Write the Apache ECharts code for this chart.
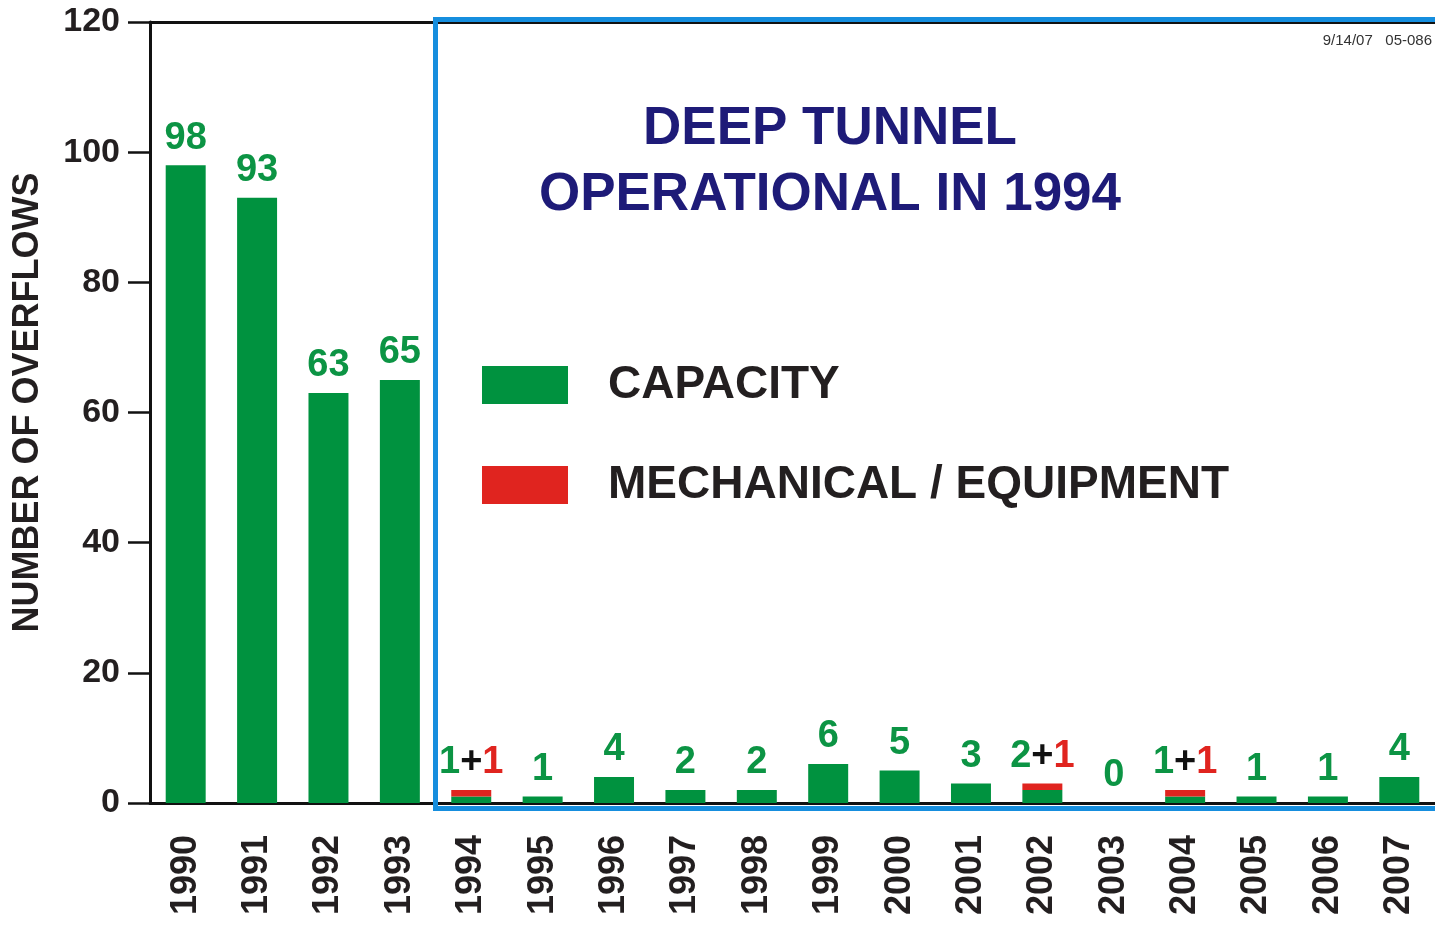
<!DOCTYPE html>
<html>
<head>
<meta charset="utf-8">
<script src="https://cdn.jsdelivr.net/npm/echarts@6/dist/echarts.min.js"></script>
<style>
  html, body { margin: 0; padding: 0; background: #fff; }
  #chart { width: 1435px; height: 925px; }
</style>
</head>
<body>
<div id="chart"></div>
<script>
// data
const years = ['1990','1991','1992','1993','1994','1995','1996','1997','1998',
               '1999','2000','2001','2002','2003','2004','2005','2006','2007'];
const capacity   = [98, 93, 63, 65, 1, 1, 4, 2, 2, 6, 5, 3, 2, 0, 1, 1, 1, 4];
const mechanical = [0, 0, 0, 0, 1, 0, 0, 0, 0, 0, 0, 0, 1, 0, 1, 0, 0, 0];
const yTicks = [0, 20, 40, 60, 80, 100, 120];

const GREEN = '#00923f';
const RED = '#e0241f';
const FONT = 'Liberation Sans';

var chart = echarts.init(document.getElementById('chart'));

const option = {
  backgroundColor: '#fff',
  animation: false,
  textStyle: { fontFamily: FONT },
  grid: { left: 150, right: 0, top: 22, bottom: 122 },
  legend: {
    orient: 'vertical',
    left: 477, top: 357,
    itemWidth: 86, itemHeight: 38, itemGap: 54,
    icon: 'rect',
    selectedMode: false,
    textStyle: { fontSize: 46, fontWeight: 'bold', color: '#231f20', fontFamily: FONT,
                 lineHeight: 38, padding: [0, 0, 0, 35] },
    data: ['CAPACITY', 'MECHANICAL / EQUIPMENT']
  },
  xAxis: [{
    type: 'category',
    data: years,
    axisLine: { lineStyle: { color: '#111', width: 3 } },
    axisTick: { length: 20, lineStyle: { color: '#111', width: 2.5 } },
    axisLabel: { rotate: 90, margin: 32, fontSize: 36, fontWeight: 'bold', color: '#231f20', fontFamily: FONT }
  }, {
    type: 'category',
    position: 'top',
    data: years,
    axisLine: { lineStyle: { color: '#111', width: 3 } },
    axisTick: { show: false },
    axisLabel: { show: false }
  }],
  yAxis: {
    type: 'value',
    min: 0, max: yTicks[yTicks.length - 1], interval: 20,
    name: 'NUMBER OF OVERFLOWS',
    nameLocation: 'middle',
    nameGap: 104,
    nameTextStyle: { fontSize: 36, fontWeight: 'bold', color: '#231f20', fontFamily: FONT,
                     padding: [0, 0, 0, 20] },
    axisLine: { show: true, lineStyle: { color: '#111', width: 3 } },
    axisTick: { show: true, length: 22, lineStyle: { color: '#111', width: 2.5 } },
    axisLabel: { margin: 30, fontSize: 34, fontWeight: 'bold', color: '#231f20', fontFamily: FONT },
    splitLine: { show: false }
  },
  graphic: [
    {
      type: 'rect', z: 1,
      shape: { x: 435.5, y: 19.5, width: 1010, height: 789 },
      style: { fill: 'none', stroke: '#168ede', lineWidth: 5 }
    },
    {
      type: 'text', x: 830, y: 96,
      style: {
        text: 'DEEP TUNNEL\nOPERATIONAL IN 1994',
        fontSize: 53, fontWeight: 'bold', fontFamily: FONT,
        lineHeight: 66, align: 'center', fill: '#1e1b78'
      }
    },
    {
      type: 'text', x: 1432, y: 33,
      style: { text: '9/14/07   05-086', fontSize: 15, fontFamily: FONT, fill: '#333', align: 'right' }
    }
  ],
  series: [
    {
      name: 'CAPACITY',
      type: 'bar',
      stack: 'total',
      barWidth: '56%',
      itemStyle: { color: GREEN },
      label: {
        show: true, position: 'top', distance: 8,
        fontSize: 38, fontWeight: 'bold', color: '#0c9444', fontFamily: FONT,
        formatter: p => mechanical[p.dataIndex] > 0 ? '' : String(p.value)
      },
      data: capacity
    },
    {
      name: 'MECHANICAL / EQUIPMENT',
      type: 'bar',
      stack: 'total',
      barWidth: '56%',
      itemStyle: { color: RED },
      label: {
        show: true, position: 'top', distance: 8,
        fontSize: 38, fontWeight: 'bold', fontFamily: FONT,
        formatter: p => {
          const i = p.dataIndex;
          return mechanical[i] > 0 ? '{g|' + capacity[i] + '}{k|+}{r|' + mechanical[i] + '}' : '';
        },
        rich: {
          g: { fontSize: 38, fontWeight: 'bold', color: '#0c9444', fontFamily: FONT },
          k: { fontSize: 38, fontWeight: 'bold', color: '#111', fontFamily: FONT },
          r: { fontSize: 38, fontWeight: 'bold', color: RED, fontFamily: FONT }
        }
      },
      data: mechanical
    }
  ]
};

chart.setOption(option);
</script>
</body>
</html>
